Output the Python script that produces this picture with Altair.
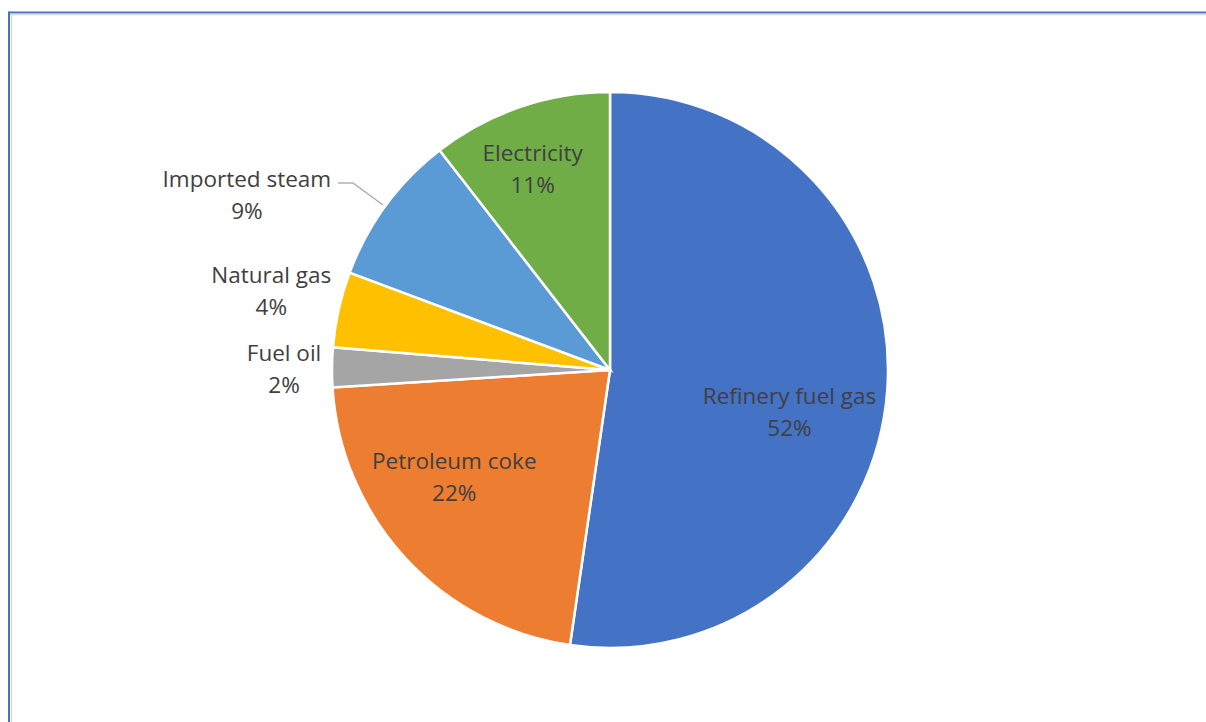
import altair as alt
import pandas as pd

# ---- data ----
categories = ["Refinery fuel gas", "Petroleum coke", "Fuel oil", "Natural gas", "Imported steam", "Electricity"]
values = [52.3, 21.7, 2.3, 4.4, 8.8, 10.5]
pct_labels = ["52%", "22%", "2%", "4%", "9%", "11%"]

# ---- style ----
colors = ["#4472C4", "#ED7D31", "#A5A5A5", "#FFC000", "#5B9BD5", "#70AD47"]
FONT = "Open Sans"
FS = 22.5
TXT = "#404040"
LH = 32
W, H = 1192, 704
PAD_L, PAD_T = 14, 18

# label placement: radius, dx, dy (dy relative to block centre)
label_pos = {
    "Refinery fuel gas": (180, 0, 30),
    "Petroleum coke": (190, -16, -21),
    "Fuel oil": (326, 0, 3),
    "Natural gas": (345, -2, -3),
    "Imported steam": (400, -41, 63),
    "Electricity": (211, -9, 0),
}

df = pd.DataFrame({
    "category": categories,
    "value": values,
    "pct": pct_labels,
    "order": list(range(len(categories))),
})

base = alt.Chart(df).encode(
    theta=alt.Theta("value:Q", stack=True),
    order=alt.Order("order:Q"),
)

pie = base.mark_arc(outerRadius=278, stroke="white", strokeWidth=2.5).encode(
    color=alt.Color("category:N", scale=alt.Scale(domain=categories, range=colors), legend=None)
)

layers = [pie]
for cat, (r, dx, dy) in label_pos.items():
    layers.append(
        base.mark_text(
            radius=r, dx=dx, dy=dy - LH / 2, font=FONT, fontSize=FS, color=TXT,
            lineBreak="\n", lineHeight=LH, align="center", baseline="middle",
        ).transform_calculate(
            lbl=f"datum.category === '{cat}' ? datum.category + '\\n' + datum.pct : ''"
        ).encode(text="lbl:N")
    )

one = alt.Data(values=[{"k": 0}])
leader_col = "#A6A6A6"
leader1 = alt.Chart(one).mark_rule(color=leader_col, strokeWidth=1.3).encode(
    x=alt.value(324), x2=alt.value(339), y=alt.value(165), y2=alt.value(165))
leader2 = alt.Chart(one).mark_rule(color=leader_col, strokeWidth=1.3).encode(
    x=alt.value(339), x2=alt.value(369), y=alt.value(165), y2=alt.value(187))

# frame border (top and left, with inner grey shadow)
b_top = alt.Chart(one).mark_rule(color="#4472C4", strokeWidth=2).encode(
    x=alt.value(-5), x2=alt.value(W + 2), y=alt.value(-5.5), y2=alt.value(-5.5))
b_left = alt.Chart(one).mark_rule(color="#4472C4", strokeWidth=2).encode(
    x=alt.value(-5), x2=alt.value(-5), y=alt.value(-6.5), y2=alt.value(H + 2))
s_top = alt.Chart(one).mark_rule(color="#D9D9D9", strokeWidth=1.5).encode(
    x=alt.value(-4), x2=alt.value(W + 2), y=alt.value(-3.5), y2=alt.value(-3.5))
s_left = alt.Chart(one).mark_rule(color="#D9D9D9", strokeWidth=1.5).encode(
    x=alt.value(-2.5), x2=alt.value(-2.5), y=alt.value(-4), y2=alt.value(H + 2))

chart = alt.layer(b_top, b_left, s_top, s_left, *layers, leader1, leader2).properties(
    width=W, height=H,
    autosize=alt.AutoSizeParams(type="none"),
    padding={"left": PAD_L, "top": PAD_T, "right": 0, "bottom": 0},
    background="white",
).configure_view(stroke=None)

chart.save("out.html", embed_options={"renderer": "svg", "actions": False})
